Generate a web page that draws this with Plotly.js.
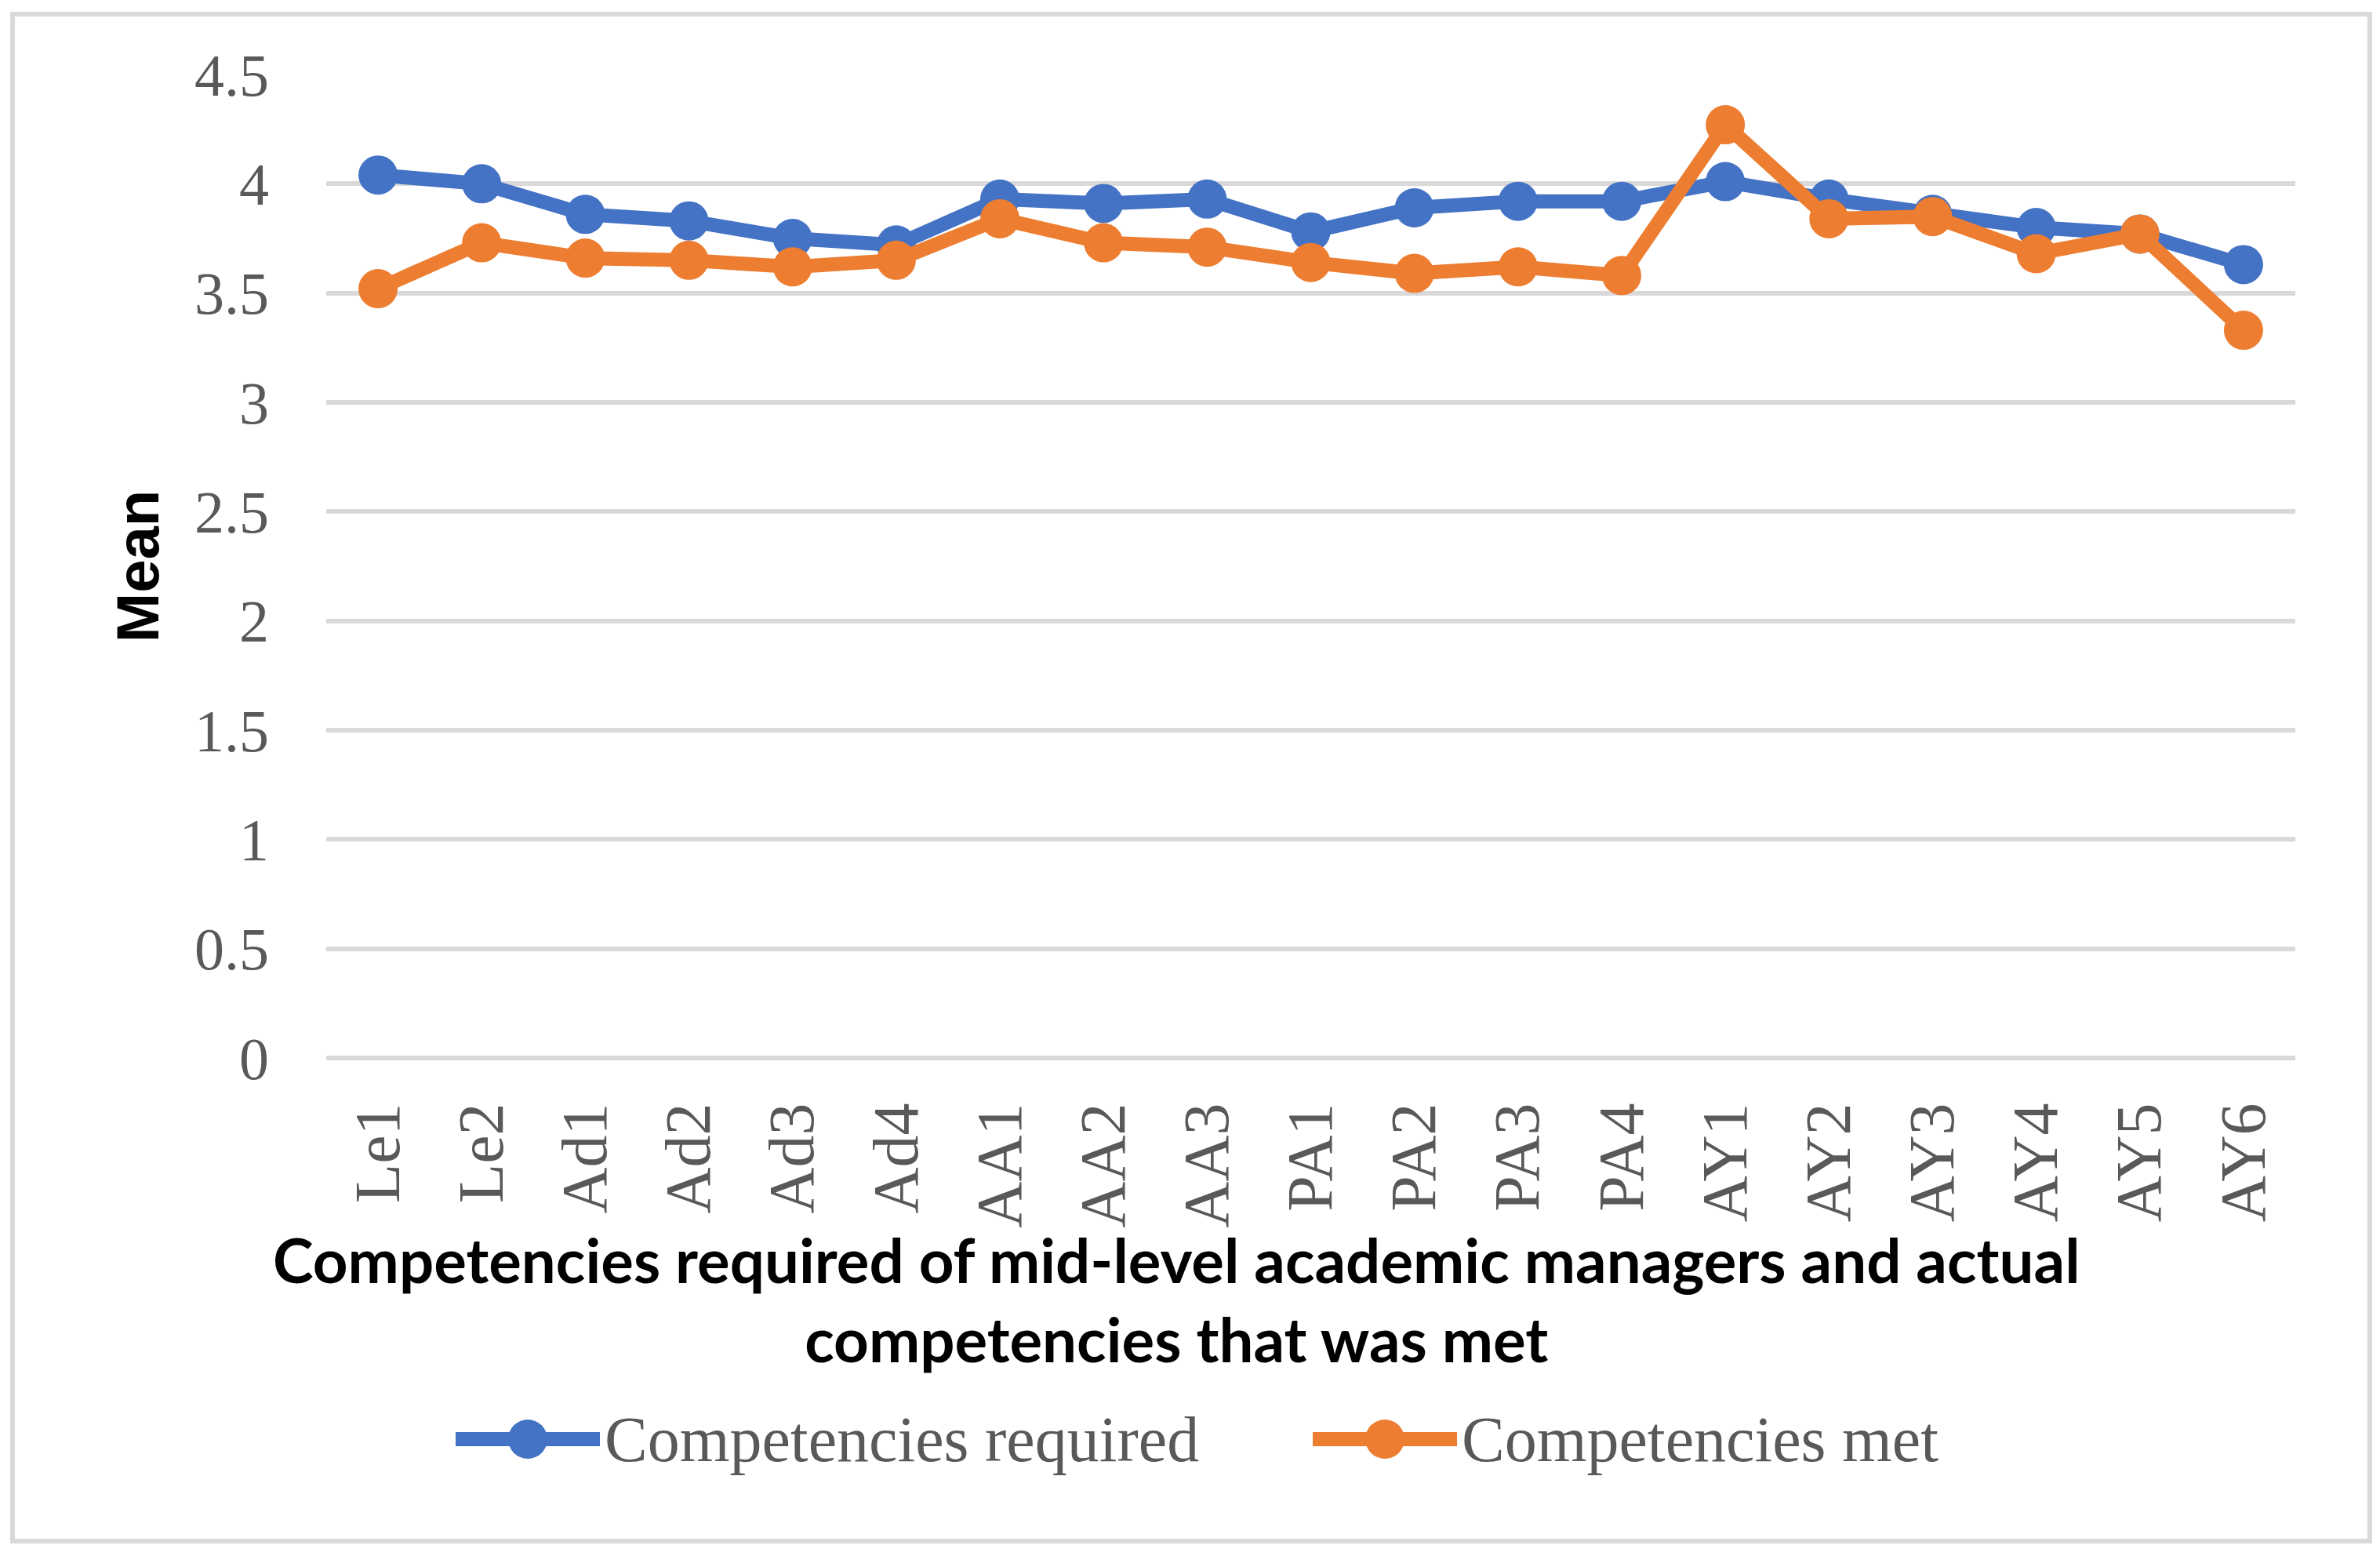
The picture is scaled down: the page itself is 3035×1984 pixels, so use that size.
<!DOCTYPE html>
<html>
<head>
<meta charset="utf-8">
<script src="https://cdn.plot.ly/plotly-3.0.1.min.js"></script>
<style>
  html, body { margin: 0; padding: 0; background: #fff; }
  #chart { width: 3035px; height: 1984px; }
</style>
</head>
<body>
<div id="chart"></div>
<script>
// categories on the x axis
const categories = ['Le1', 'Le2', 'Ad1', 'Ad2', 'Ad3', 'Ad4', 'AA1', 'AA2', 'AA3',
    'PA1', 'PA2', 'PA3', 'PA4', 'AY1', 'AY2', 'AY3', 'AY4', 'AY5', 'AY6'];

// mean scores
const required = [4.04, 4.00, 3.86, 3.83, 3.75, 3.72, 3.93, 3.91, 3.93,
    3.78, 3.89, 3.92, 3.92, 4.01, 3.93, 3.86, 3.80, 3.77, 3.63];
const met = [3.52, 3.73, 3.66, 3.65, 3.62, 3.65, 3.84, 3.73, 3.71,
    3.64, 3.59, 3.62, 3.58, 4.27, 3.84, 3.85, 3.68, 3.77, 3.33];

const yTicks = [0, 0.5, 1, 1.5, 2, 2.5, 3, 3.5, 4, 4.5];
const seriesNames = ['Competencies required', 'Competencies met'];
const seriesColors = ['#4472C4', '#ED7D31'];
const xTitle = 'Competencies required of mid-level academic managers and actual<br>competencies that was met';

const W = 3035, H = 1984;
const margin = {l: 416, r: 108, t: 95, b: 635};
const plotW = W - margin.l - margin.r;
const plotH = H - margin.t - margin.b;

// convert page pixels to paper coordinates
function px(x) { return (x - margin.l) / plotW; }
function py(y) { return (H - margin.b - y) / plotH; }

const serif = '"Liberation Serif", "DejaVu Serif", serif';
const grey = '#595959';
const lineW = 18, markerD = 50;

const traces = [required, met].map((vals, i) => ({
    x: categories,
    y: vals,
    name: seriesNames[i],
    type: 'scatter',
    mode: 'lines+markers',
    line: {color: seriesColors[i], width: lineW},
    marker: {color: seriesColors[i], size: markerD}
}));

// legend drawn by hand: plotly caps legend symbol sizes far below these
const legendY = 1835;
const legendStarts = [581, 1674];
const legendShapes = [];
const legendTexts = [];
legendStarts.forEach((x0, i) => {
    legendShapes.push({
        type: 'line', xref: 'paper', yref: 'paper',
        x0: px(x0), x1: px(x0 + 184), y0: py(legendY), y1: py(legendY),
        line: {color: seriesColors[i], width: lineW}
    });
    legendShapes.push({
        type: 'circle', xref: 'paper', yref: 'paper',
        x0: px(x0 + 92 - markerD / 2), x1: px(x0 + 92 + markerD / 2),
        y0: py(legendY + markerD / 2), y1: py(legendY - markerD / 2),
        line: {width: 0}, fillcolor: seriesColors[i]
    });
    legendTexts.push({
        xref: 'paper', yref: 'paper',
        x: px(x0 + 188), y: py(legendY),
        xanchor: 'left', yanchor: 'middle',
        showarrow: false,
        text: seriesNames[i],
        font: {family: serif, size: 82, color: grey}
    });
});

const layout = {
    width: W,
    height: H,
    margin: margin,
    paper_bgcolor: '#ffffff',
    plot_bgcolor: '#ffffff',
    showlegend: false,
    xaxis: {
        type: 'category',
        range: [-0.5, categories.length - 0.5],
        tickangle: -90,
        tickfont: {family: serif, size: 82, color: grey},
        ticklabelstandoff: 40,
        showgrid: false,
        showline: false,
        ticks: '',
        fixedrange: true
    },
    yaxis: {
        range: [0, 4.5],
        tickvals: yTicks,
        ticktext: yTicks.map(String),
        tickfont: {family: serif, size: 76, color: grey},
        ticklabelstandoff: 72,
        showgrid: true,
        gridcolor: '#D9D9D9',
        gridwidth: 6,
        zeroline: true,
        zerolinecolor: '#D9D9D9',
        zerolinewidth: 6,
        showline: false,
        ticks: '',
        title: {
            text: 'Mean',
            font: {family: '"Liberation Sans", Arial, sans-serif', size: 76, color: '#000000', weight: 'bold'},
            standoff: 20
        },
        fixedrange: true
    },
    annotations: [
        {
            xref: 'paper', yref: 'paper',
            x: px(1500), y: py(1657),
            xanchor: 'center', yanchor: 'middle',
            showarrow: false,
            text: '<b>' + xTitle + '</b>',
            font: {family: 'Lato, "Open Sans", sans-serif', size: 78, color: '#000000'}
        }
    ].concat(legendTexts),
    shapes: [
        {
            type: 'rect', xref: 'paper', yref: 'paper',
            x0: px(16), x1: px(3022), y0: py(18), y1: py(1965),
            line: {color: '#D9D9D9', width: 6},
            fillcolor: 'rgba(0,0,0,0)',
            layer: 'below'
        }
    ].concat(legendShapes)
};

Plotly.newPlot('chart', traces, layout, {displayModeBar: false, staticPlot: true});
</script>
</body>
</html>
